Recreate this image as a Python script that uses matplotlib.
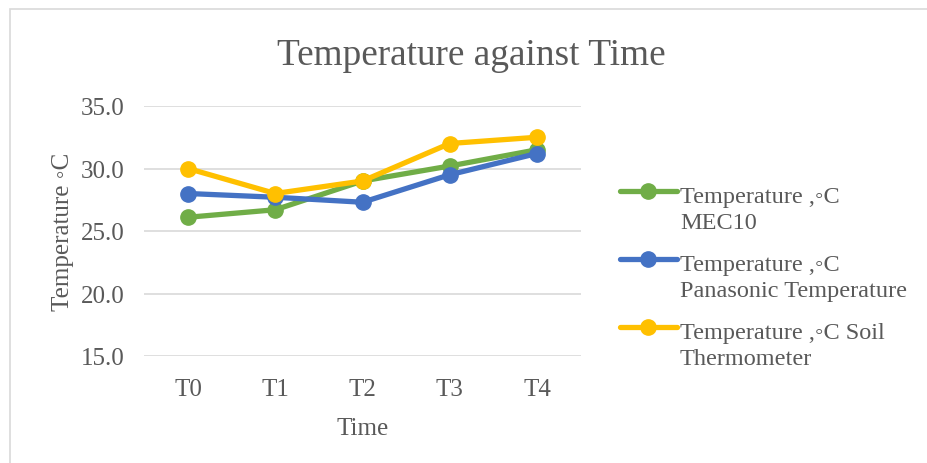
import matplotlib
matplotlib.use("Agg")
import matplotlib.pyplot as plt
from matplotlib.patches import Rectangle
from matplotlib.lines import Line2D

categories = ["T0", "T1", "T2", "T3", "T4"]
mec10 = [26.1, 26.7, 29.0, 30.2, 31.5]
panasonic = [28.0, 27.7, 27.3, 29.5, 31.2]
soil = [30.0, 28.0, 29.0, 32.0, 32.5]
series_labels = ["Temperature ,\u25e6C\nMEC10",
                 "Temperature ,\u25e6C\nPanasonic Temperature",
                 "Temperature ,\u25e6C Soil\nThermometer"]
yticks = [15.0, 20.0, 25.0, 30.0, 35.0]

FAM = ["Liberation Serif", "DejaVu Serif"]
TXT = "#595959"
plt.rcParams["font.family"] = FAM

W, H = 927, 464
fig = plt.figure(figsize=(W/100, H/100), dpi=100)
fig.patches.append(Rectangle((10/W, -0.1), 1.2, 1.1 - 10/H, transform=fig.transFigure,
                             fill=False, edgecolor="#D9D9D9", linewidth=1.2, zorder=0))
ax = fig.add_axes([144.4/W, (H-357)/H, 436.2/W, 250/H])

x = list(range(len(categories)))
colors = ["#70AD47", "#4472C4", "#FFC000"]
for vals, col in zip([mec10, panasonic, soil], colors):
    ax.plot(x, vals, color=col, linewidth=3.8, marker="o", markersize=11,
            solid_capstyle="round", zorder=3)

ax.set_xlim(-0.5, 4.5)
ax.set_ylim(15, 35)
ax.set_yticks(yticks)
ax.set_yticklabels([f"{v:.1f}" for v in yticks])
ax.set_xticks(x)
ax.set_xticklabels(categories)
ax.grid(axis="y", color="#D9D9D9", linewidth=1.2)
ax.set_axisbelow(True)
for s in ax.spines.values():
    s.set_visible(False)
ax.tick_params(axis="both", length=0, labelsize=18, colors=TXT)
ax.tick_params(axis="x", pad=16)
ax.tick_params(axis="y", pad=14)

ax.set_xlabel("Time", fontsize=18, color=TXT, labelpad=12)
ax.set_ylabel("Temperature \u25e6C", fontsize=18, color=TXT, labelpad=5)

fig.text(471/W, 1 - 56/H, "Temperature against Time", fontsize=26.8,
         color=TXT, ha="center", va="center")

# legend (handles aligned with first text line, as in the source chart)
leg_y = [192, 260, 328]
for col, lab, yy in zip(colors, series_labels, leg_y):
    fy = 1 - yy/H
    fig.add_artist(Line2D([620/W, 677/W], [fy, fy], transform=fig.transFigure,
                          color=col, linewidth=3.8, solid_capstyle="round"))
    fig.add_artist(Line2D([648/W], [fy], transform=fig.transFigure, color=col,
                          marker="o", markersize=11, linestyle="none"))
    fig.text(680/W, 1 - (yy - 5)/H, lab, fontsize=17.5, color=TXT,
             ha="left", va="top", linespacing=1.3)

fig.savefig("out.png", dpi=100)
